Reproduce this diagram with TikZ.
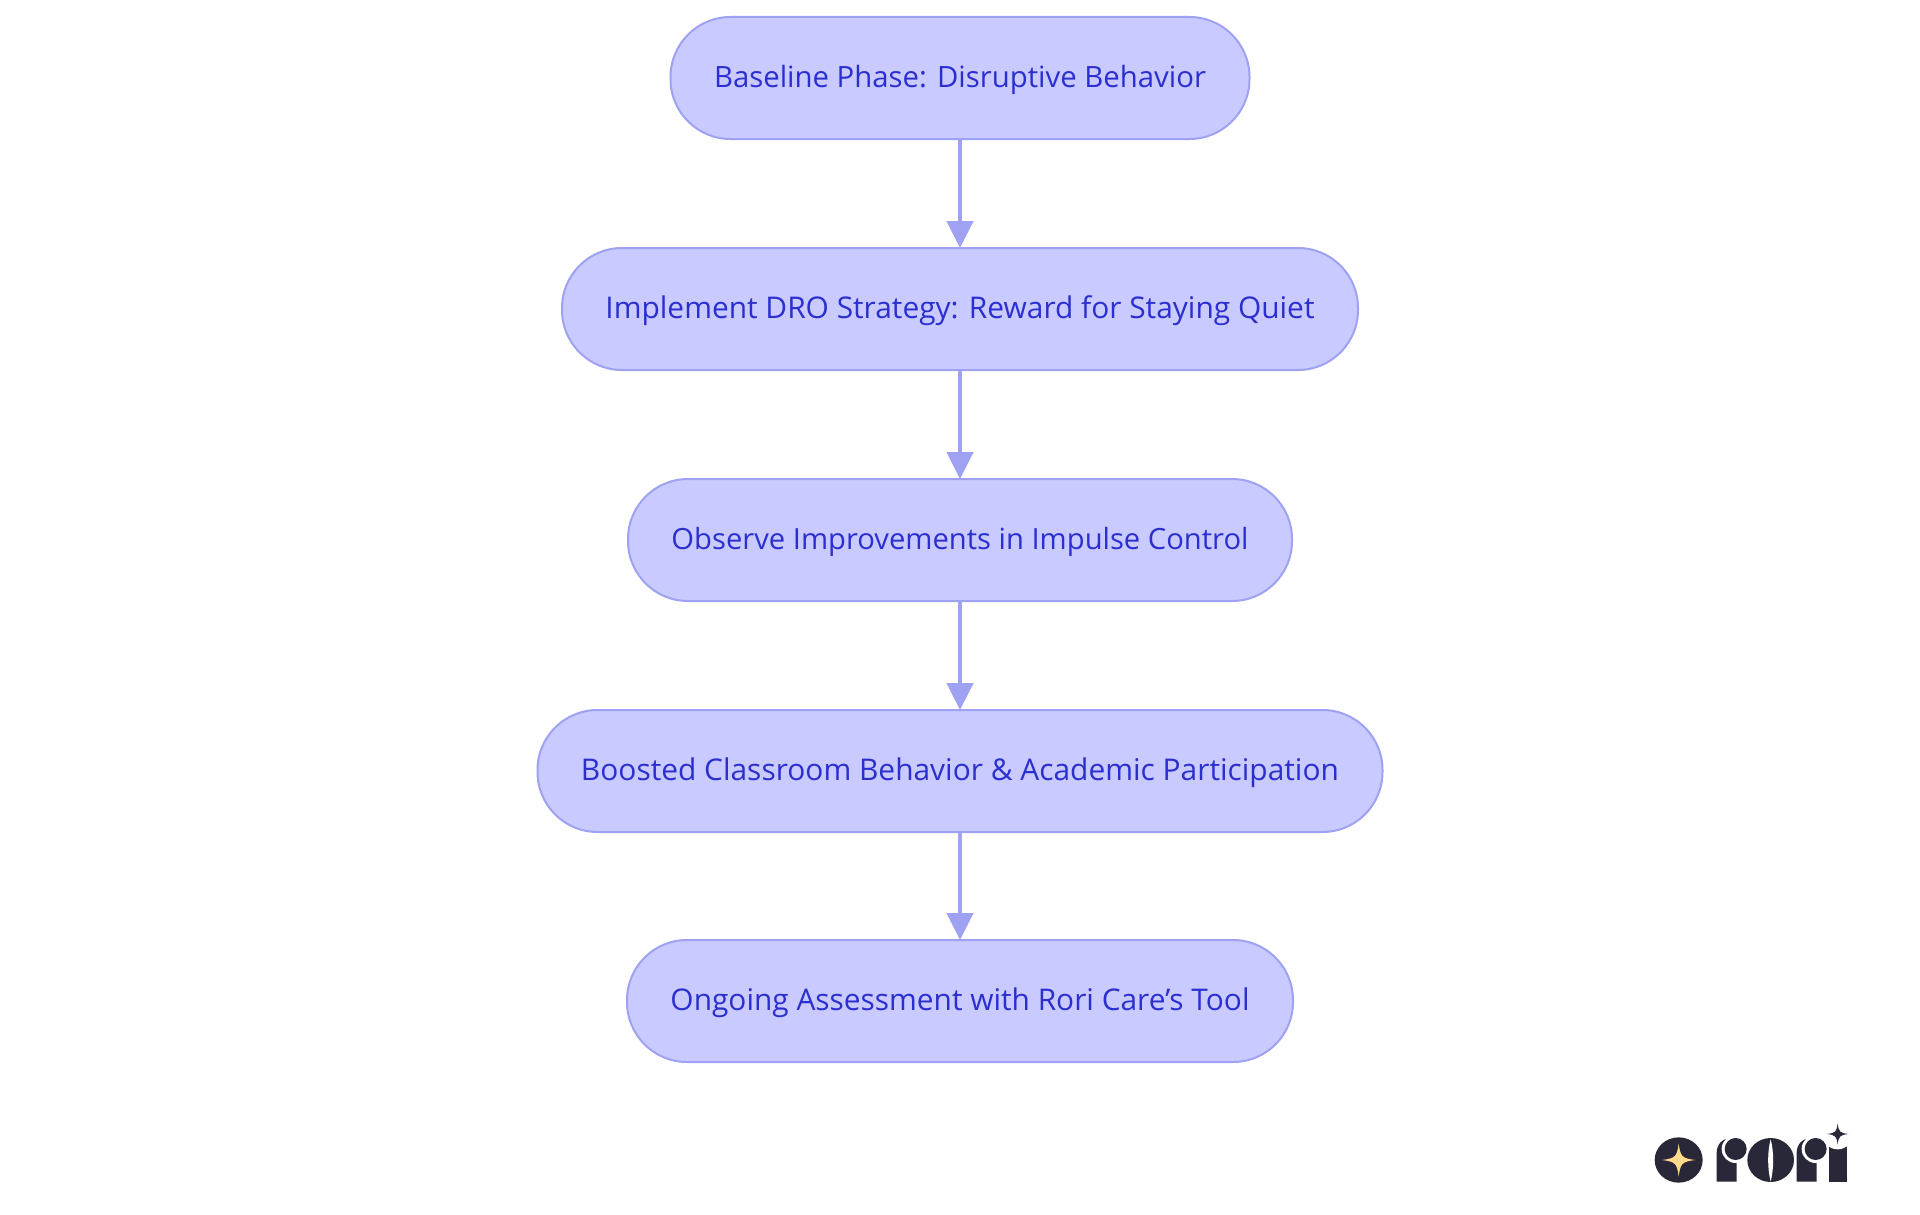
\documentclass[tikz,border=0pt]{standalone}
\usepackage{fontspec}
\usepackage{graphicx}
\setmainfont{Open Sans}
\usetikzlibrary{arrows.meta}
\definecolor{nodefill}{HTML}{C9CAFF}
\definecolor{nodeline}{HTML}{9FA2F2}
\definecolor{nodetext}{HTML}{2B2FCF}
\definecolor{logodark}{HTML}{292838}
\definecolor{logostar}{HTML}{FFD98C}
\tikzset{
  flowbox/.style={draw=nodeline,fill=nodefill,line width=2pt,rounded corners=60pt,minimum height=122pt,
    inner sep=0pt,outer sep=0pt,text=nodetext,font=\fontsize{29.5pt}{36pt}\selectfont},
  flowarrow/.style={draw=nodeline,line width=4.5pt,-{Triangle[length=27pt,width=26pt]}},
  logoink/.style={fill=logodark,draw=none},
  logogap/.style={fill=white,draw=none}
}
\newcommand{\fitw}[2]{\raisebox{-1.5pt}[\height][\depth]{\resizebox{#1}{!}{#2}}}
\newcommand{\logosparkle}[3]{% centre x, y, arm
  ({#1-#3},#2) .. controls ({#1-#3*0.2},{#2-#3*0.1}) and ({#1-#3*0.1},{#2-#3*0.2}) .. (#1,{#2-#3})
  .. controls ({#1+#3*0.1},{#2-#3*0.2}) and ({#1+#3*0.2},{#2-#3*0.1}) .. ({#1+#3},#2)
  .. controls ({#1+#3*0.2},{#2+#3*0.1}) and ({#1+#3*0.1},{#2+#3*0.2}) .. (#1,{#2+#3})
  .. controls ({#1-#3*0.1},{#2+#3*0.2}) and ({#1-#3*0.2},{#2+#3*0.1}) .. ({#1-#3},#2) -- cycle}
\newcommand{\logor}[1]{%
  \fill[logoink] ({#1+230},215) -- ({#1+230},128) .. controls ({#1+230},104) and ({#1+246},85) .. ({#1+272},85)
    -- ({#1+290},85) -- ({#1+290},215) -- cycle;
  \fill[logogap] ({#1+287},117) circle (42);
  \fill[logoink] ({#1+287},117) circle (33);
}
\begin{document}
\begin{tikzpicture}[x=1pt,y=-1pt]
\useasboundingbox (0,0) rectangle (1920,1215);
\fill[white] (0,0) rectangle (1920,1215);
\node[flowbox,minimum width=579pt] (a) at (960,78) {\fitw{492pt}{Baseline Phase: Disruptive Behavior}};
\node[flowbox,minimum width=796pt] (b) at (960,309) {\fitw{709pt}{Implement DRO Strategy: Reward for Staying Quiet}};
\node[flowbox,minimum width=664pt] (c) at (960,540) {\fitw{577pt}{Observe Improvements in Impulse Control}};
\node[flowbox,minimum width=845pt] (d) at (960,771) {\fitw{758pt}{Boosted Classroom Behavior \& Academic Participation}};
\node[flowbox,minimum width=666pt] (e) at (960,1001) {\fitw{579pt}{Ongoing Assessment with Rori Care’s Tool}};
\draw[flowarrow] (a) -- (b);
\draw[flowarrow] (b) -- (c);
\draw[flowarrow] (c) -- (d);
\draw[flowarrow] (d) -- (e);
% logo
\begin{scope}[shift={(1640,1110)},x=0.3333pt,y=-0.3333pt]
\fill[logoink] (116,150) ellipse (72 and 68);
\fill[logostar] \logosparkle{116}{150}{50};
\logor{0}
\fill[logoink] (392,150) ellipse (70 and 66);
\fill[logogap] (392,88) .. controls (382,125) and (382,175) .. (392,215) .. controls (402,175) and (402,125) .. (392,88) -- cycle;
\logor{240}
\fill[logoink] (566,100) rectangle (620,215);
\fill[logogap] (593,72) circle (46);
\fill[logoink] \logosparkle{593}{72}{32};
\end{scope}
\end{tikzpicture}
\end{document}
